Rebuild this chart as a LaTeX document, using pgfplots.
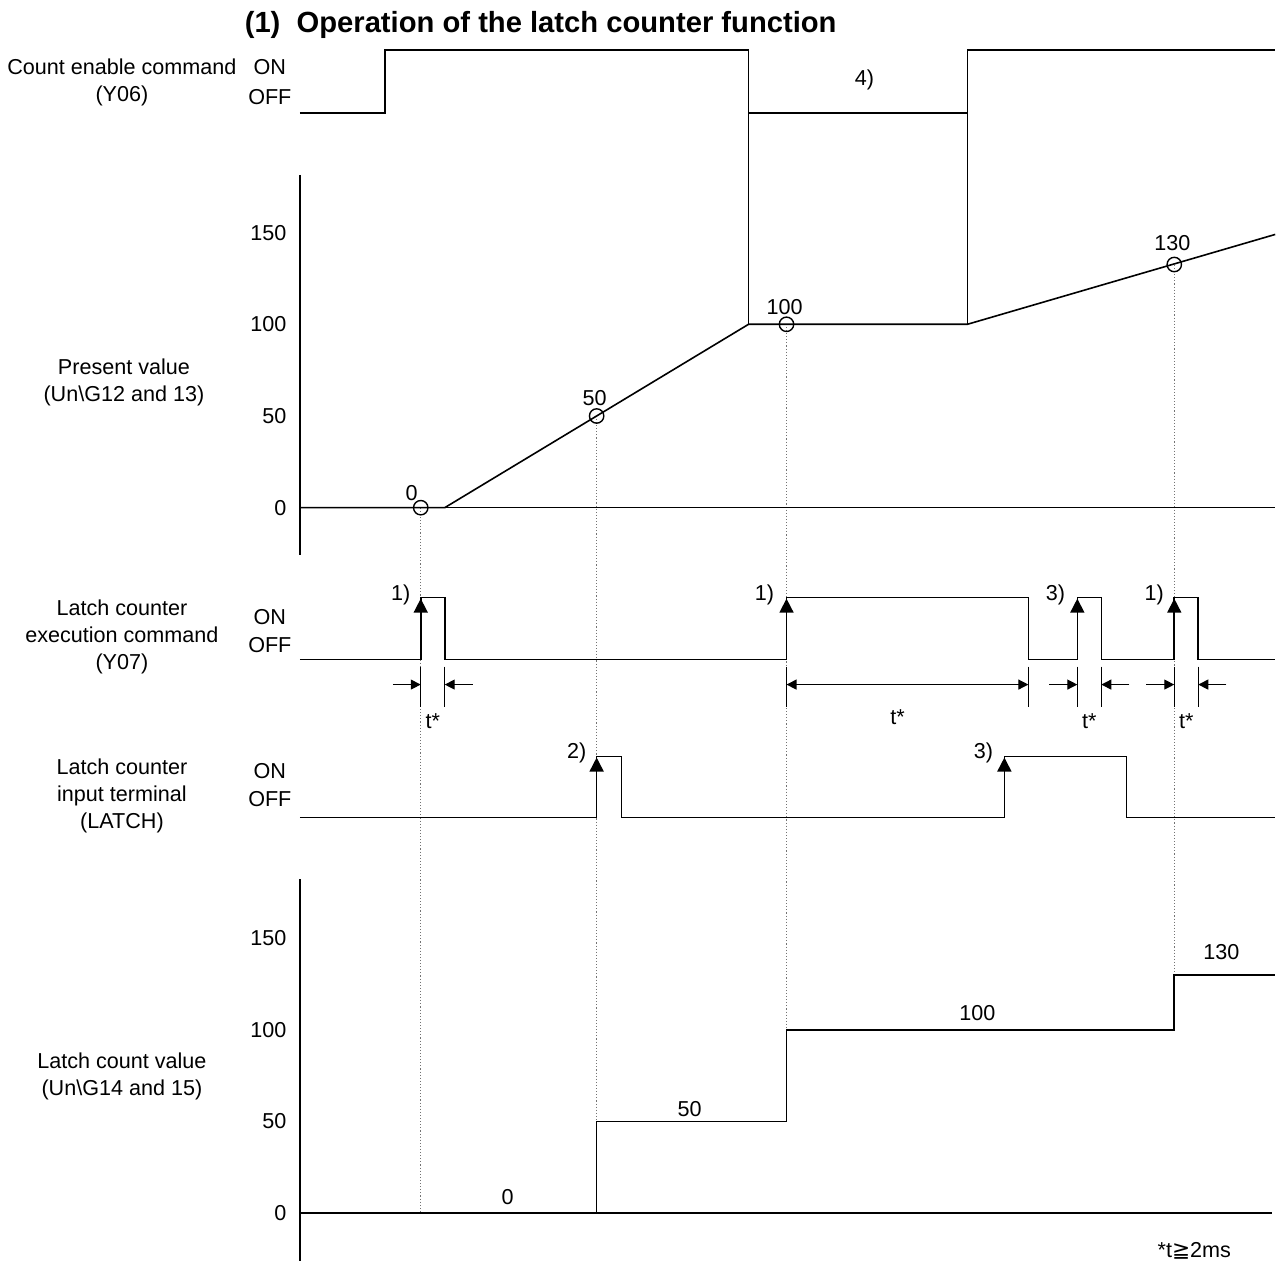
\documentclass[border=0pt]{standalone}
\usepackage{pgfplots}
\pgfplotsset{compat=1.18}
\usetikzlibrary{arrows.meta}
\usepackage{fontspec}
\setmainfont{Liberation Sans}
\newfontfamily\dejavu{DejaVu Sans}
\newcommand\lab{\fontsize{10.8}{13.5}\selectfont}

\begin{document}
\begin{tikzpicture}[font=\lab, lb/.style={font=\lab, inner sep=0pt}]
\begin{axis}[
  scale only axis, width=638pt, height=633pt,
  xmin=0, xmax=1276, ymin=0, ymax=1266, y dir=reverse,
  hide axis, clip=false,
  sig/.style={black, line width=0.8pt},
  dot/.style={black!55, line width=0.55pt, densely dotted},
  arr/.style={-{Triangle[length=7pt,width=7pt]}},
  dim/.style={black, line width=0.6pt, -{Triangle[length=5pt,width=5pt]}},
  tk/.style={black, line width=0.6pt},
]
% full-size bounding box
\draw[draw=none] (rel axis cs:0,0) rectangle (rel axis cs:1,1);

% ---------- title ----------
\node[inner sep=0pt, font=\fontsize{14.6}{16}\selectfont\bfseries] at (axis cs:541,25) {(1)\ \ Operation of the latch counter function};

% ---------- left labels ----------
\node[lb, align=center] at (axis cs:122,82) {Count enable command\\(Y06)};
\node[lb] at (axis cs:270,67) {ON};
\node[lb] at (axis cs:270,97) {OFF};
\node[lb, align=center] at (axis cs:124,383) {Present value\\(Un\textbackslash G12 and 13)};
\node[lb, align=center] at (axis cs:122,637) {Latch counter\\execution command\\(Y07)};
\node[lb] at (axis cs:270,617) {ON};
\node[lb] at (axis cs:270,645) {OFF};
\node[lb, align=center] at (axis cs:122,796) {Latch counter\\input terminal\\(LATCH)};
\node[lb] at (axis cs:270,772) {ON};
\node[lb] at (axis cs:270,800) {OFF};
\node[lb, align=center] at (axis cs:122,1077) {Latch count value\\(Un\textbackslash G14 and 15)};

% ---------- tick labels ----------
\node[lb, anchor=east] at (axis cs:287,232.75) {150};
\node[lb, anchor=east] at (axis cs:287,324.5) {100};
\node[lb, anchor=east] at (axis cs:287,416.25) {50};
\node[lb, anchor=east] at (axis cs:287,508) {0};
\node[lb, anchor=east] at (axis cs:287,938.75) {150};
\node[lb, anchor=east] at (axis cs:287,1030.5) {100};
\node[lb, anchor=east] at (axis cs:287,1122.25) {50};
\node[lb, anchor=east] at (axis cs:287,1214) {0};

% ---------- dotted guide lines ----------
\addplot[dot] coordinates {(421,508) (421,1214)};
\addplot[dot] coordinates {(597,416) (597,1214)};
\addplot[dot] coordinates {(787,324) (787,1122)};
\addplot[dot] coordinates {(1175,265) (1175,1030)};

% ---------- count enable command (Y06) ----------
\addplot[sig] table[y expr={113-63*\thisrow{s}}] {
t s
300 0
385 0
385 1
749 1
749 0
968 0
968 1
1276 1
};
\addplot[sig] coordinates {(749,113) (749,324.5)};
\addplot[sig] coordinates {(968,113) (968,324.5)};
\node[lb] at (axis cs:865,80) {4)};

% ---------- present value ----------
\addplot[sig] coordinates {(300,175) (300,555)};
\addplot[sig] coordinates {(300,508) (1276,508)};
\addplot[sig] table[y expr={508-1.835*\thisrow{v}}] {
t v
300 0
445 0
749 100
968 100
1276 149
};
\addplot[only marks, mark=o, mark size=3.6pt, mark options={black, line width=0.7pt}]
  table[y expr={508-1.835*\thisrow{v}}] {
t v
421 0
597 50
787 100
1175 132.6
};
\node[lb] at (axis cs:412,493) {0};
\node[lb] at (axis cs:595,398) {50};
\node[lb] at (axis cs:785,307) {100};
\node[lb] at (axis cs:1173,243) {130};

% ---------- latch counter execution command (Y07) ----------
\addplot[sig] table[y expr={660-62*\thisrow{s}}] {
t s
300 0
421 0
421 1
445 1
445 0
787 0
787 1
1029 1
1029 0
1078 0
1078 1
1102 1
1102 0
1175 0
1175 1
1199 1
1199 0
1276 0
};
\addplot[sig, arr] coordinates {(421,660) (421,599)};
\addplot[sig, arr] coordinates {(787,660) (787,599)};
\addplot[sig, arr] coordinates {(1078,660) (1078,599)};
\addplot[sig, arr] coordinates {(1175,660) (1175,599)};
\node[lb] at (axis cs:401,595) {1)};
\node[lb] at (axis cs:765,595) {1)};
\node[lb] at (axis cs:1056,595) {3)};
\node[lb] at (axis cs:1155,595) {1)};

% t* dimension marks
\addplot[tk] coordinates {(421,667) (421,707)};
\addplot[tk] coordinates {(445,667) (445,707)};
\addplot[dim] coordinates {(393,685) (421,685)};
\addplot[dim] coordinates {(473,685) (445,685)};
\addplot[tk] coordinates {(787,667) (787,707)};
\addplot[tk] coordinates {(1029,667) (1029,707)};
\addplot[dim, {Triangle[length=5pt,width=5pt]}-{Triangle[length=5pt,width=5pt]}] coordinates {(787,685) (1029,685)};
\addplot[tk] coordinates {(1078,667) (1078,707)};
\addplot[tk] coordinates {(1102,667) (1102,707)};
\addplot[dim] coordinates {(1050,685) (1078,685)};
\addplot[dim] coordinates {(1130,685) (1102,685)};
\addplot[tk] coordinates {(1175,667) (1175,707)};
\addplot[tk] coordinates {(1199,667) (1199,707)};
\addplot[dim] coordinates {(1147,685) (1175,685)};
\addplot[dim] coordinates {(1227,685) (1199,685)};
\node[lb] at (axis cs:433,722) {t*};
\node[lb] at (axis cs:898,718) {t*};
\node[lb] at (axis cs:1090,722) {t*};
\node[lb] at (axis cs:1187,722) {t*};

% ---------- latch counter input terminal (LATCH) ----------
\addplot[sig] table[y expr={818-61*\thisrow{s}}] {
t s
300 0
597 0
597 1
622 1
622 0
1005 0
1005 1
1127 1
1127 0
1276 0
};
\addplot[sig, arr] coordinates {(597,818) (597,758)};
\addplot[sig, arr] coordinates {(1005,818) (1005,758)};
\node[lb] at (axis cs:577,753) {2)};
\node[lb] at (axis cs:984,753) {3)};

% ---------- latch count value ----------
\addplot[sig] coordinates {(300,880) (300,1262)};
\addplot[sig] coordinates {(300,1214) (1273,1214)};
\addplot[sig] table[y expr={1214-1.835*\thisrow{v}}] {
t v
300 0
597 0
597 50
787 50
787 100
1175 100
1175 130
1276 130
};
\node[lb] at (axis cs:508,1198) {0};
\node[lb] at (axis cs:690,1110) {50};
\node[lb] at (axis cs:978,1014) {100};
\node[lb] at (axis cs:1222,953) {130};

\node[lb] at (axis cs:1195,1252) {*t{\dejavu ≧}2ms};
\end{axis}
\end{tikzpicture}
\end{document}
